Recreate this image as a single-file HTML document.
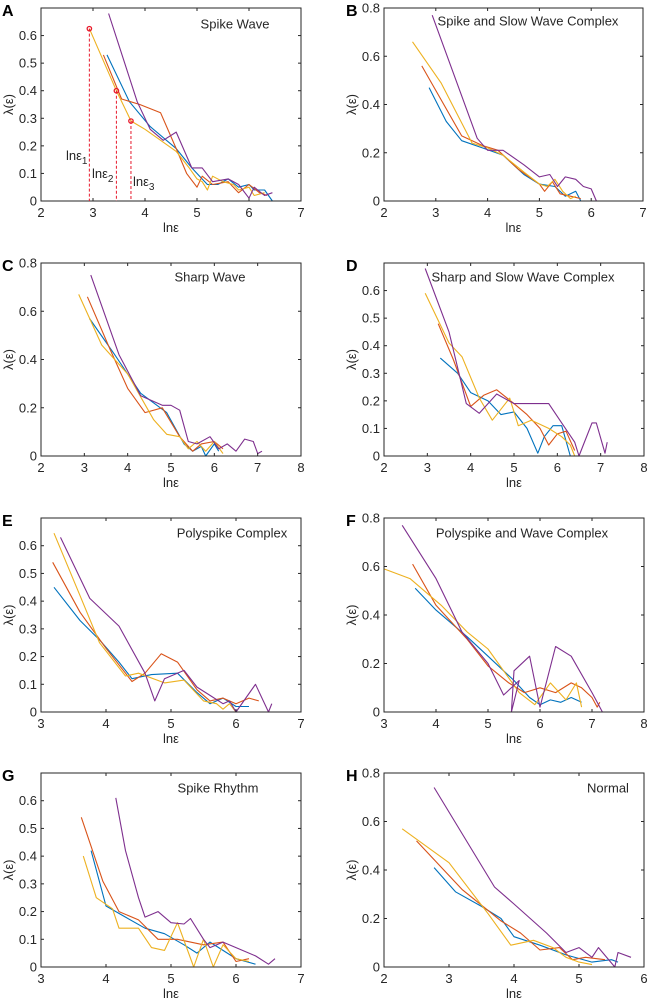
<!DOCTYPE html>
<html><head><meta charset="utf-8"><style>
body{margin:0;background:#fff;}
svg{display:block;font-family:"Liberation Sans",Arial,sans-serif;}
</style></head><body>
<svg id="fig" width="649" height="1005" viewBox="0 0 649 1005"></svg>
<script>
const colors=["#0072BD","#D95319","#EDB120","#7E2F8E"];
const seriesNames=["blue","red","yellow","purple"];
// Panel A
const aBlue=[[3.27,0.53],[3.7,0.36],[4.1,0.27],[4.6,0.19],[4.9,0.12],[5.05,0.09],[5.2,0.06],[5.4,0.06],[5.6,0.08],[5.8,0.05],[6.0,0.06],[6.1,0.04],[6.3,0.04],[6.45,0.0]];
const aRed=[[3.2,0.53],[3.55,0.37],[3.9,0.35],[4.3,0.32],[4.6,0.19],[4.8,0.10],[5.0,0.05],[5.1,0.09],[5.3,0.06],[5.6,0.07],[5.8,0.03],[6.0,0.06],[6.2,0.03],[6.35,0.02]];
const aYellow=[[2.93,0.625],[3.45,0.40],[3.73,0.29],[4.0,0.26],[4.3,0.22],[4.6,0.18],[4.85,0.12],[5.0,0.08],[5.1,0.07],[5.2,0.04],[5.3,0.09],[5.5,0.07],[5.7,0.06],[5.8,0.04],[6.0,0.05],[6.1,0.02],[6.3,0.03]];
const aPurple=[[3.3,0.68],[3.85,0.36],[4.1,0.26],[4.35,0.22],[4.6,0.25],[4.9,0.12],[5.1,0.12],[5.3,0.07],[5.6,0.08],[5.8,0.06],[6.0,0.01],[6.1,0.05],[6.3,0.02],[6.45,0.03]];
const aMarkers=[[2.93,0.625],[3.45,0.40],[3.73,0.29]];
// Panel B
const bBlue=[[2.87,0.47],[3.2,0.33],[3.5,0.25],[3.9,0.22],[4.3,0.19],[4.7,0.11],[5.0,0.07],[5.3,0.06],[5.5,0.02],[5.7,0.04],[5.8,0.0]];
const bRed=[[2.73,0.56],[3.5,0.27],[3.9,0.23],[4.2,0.21],[4.6,0.13],[5.0,0.07],[5.1,0.04],[5.25,0.08],[5.4,0.03],[5.6,0.02],[5.8,0.01]];
const bYellow=[[2.55,0.66],[3.1,0.49],[3.7,0.24],[4.0,0.22],[4.3,0.19],[4.7,0.12],[5.0,0.07],[5.15,0.06],[5.3,0.09],[5.45,0.04],[5.6,0.01],[5.7,0.02]];
const bPurple=[[2.93,0.77],[3.8,0.26],[4.0,0.21],[4.3,0.21],[4.7,0.15],[5.0,0.10],[5.2,0.11],[5.35,0.06],[5.5,0.10],[5.7,0.09],[5.85,0.06],[6.0,0.05],[6.1,0.0]];
// Panel C
const cBlue=[[3.12,0.57],[3.7,0.42],[4.3,0.26],[4.9,0.18],[5.3,0.05],[5.5,0.02],[5.7,0.04],[5.8,0.0],[6.0,0.05],[6.1,0.02]];
const cRed=[[3.07,0.66],[3.6,0.44],[4.0,0.28],[4.4,0.18],[4.8,0.20],[5.2,0.08],[5.5,0.02],[5.7,0.05],[6.0,0.06],[6.2,0.03]];
const cYellow=[[2.87,0.67],[3.4,0.46],[4.0,0.34],[4.6,0.15],[4.9,0.09],[5.2,0.08],[5.4,0.03],[5.6,0.06],[5.8,0.02],[6.0,0.06],[6.2,0.01]];
const cPurple=[[3.15,0.75],[3.8,0.42],[4.3,0.25],[4.8,0.21],[5.0,0.21],[5.2,0.19],[5.4,0.06],[5.6,0.05],[5.9,0.08],[6.1,0.03],[6.3,0.05],[6.5,0.02],[6.7,0.07],[6.9,0.06],[7.0,0.01],[7.1,0.02]];
// Panel D
const dBlue=[[3.3,0.355],[3.7,0.3],[4.0,0.23],[4.4,0.2],[4.7,0.15],[5.0,0.16],[5.3,0.1],[5.55,0.01],[5.7,0.07],[5.9,0.11],[6.1,0.11],[6.3,0.0]];
const dRed=[[3.25,0.48],[3.6,0.35],[4.0,0.18],[4.3,0.22],[4.6,0.24],[5.0,0.19],[5.3,0.15],[5.6,0.10],[5.8,0.04],[6.0,0.08],[6.2,0.09],[6.4,0.02]];
const dYellow=[[2.95,0.59],[3.5,0.41],[3.8,0.36],[4.2,0.21],[4.5,0.13],[4.9,0.21],[5.1,0.11],[5.4,0.13],[5.8,0.10],[6.1,0.07],[6.3,0.04],[6.4,0.0]];
const dPurple=[[2.95,0.68],[3.5,0.45],[3.9,0.19],[4.2,0.155],[4.6,0.225],[5.0,0.19],[5.5,0.19],[5.8,0.19],[6.1,0.12],[6.4,0.05],[6.5,0.0],[6.6,0.04],[6.8,0.12],[6.9,0.12],[7.1,0.01],[7.15,0.05]];
// Panel E
const eBlue=[[3.2,0.45],[3.6,0.33],[3.9,0.26],[4.2,0.18],[4.4,0.12],[4.7,0.135],[5.1,0.14],[5.4,0.07],[5.6,0.03],[5.8,0.05],[6.0,0.02],[6.2,0.02]];
const eRed=[[3.18,0.54],[3.6,0.36],[4.0,0.23],[4.4,0.11],[4.6,0.14],[4.85,0.21],[5.1,0.18],[5.4,0.08],[5.6,0.04],[5.8,0.05],[6.0,0.03],[6.2,0.05],[6.35,0.04]];
const eYellow=[[3.2,0.645],[3.6,0.42],[3.9,0.25],[4.3,0.13],[4.5,0.14],[4.9,0.105],[5.2,0.115],[5.5,0.04],[5.7,0.03],[5.8,0.01],[5.9,0.03],[6.0,0.0]];
const ePurple=[[3.3,0.63],[3.75,0.41],[4.2,0.31],[4.6,0.14],[4.75,0.04],[4.9,0.12],[5.2,0.15],[5.4,0.09],[5.6,0.06],[5.8,0.03],[5.9,0.04],[6.0,0.0],[6.3,0.10],[6.5,0.0],[6.55,0.03]];
// Panel F
const fBlue=[[3.6,0.51],[4.0,0.42],[4.6,0.31],[5.0,0.23],[5.5,0.13],[5.8,0.06],[6.0,0.03],[6.2,0.05],[6.4,0.04],[6.6,0.06],[6.8,0.04]];
const fRed=[[3.55,0.61],[4.0,0.44],[4.6,0.30],[5.0,0.19],[5.4,0.12],[5.7,0.08],[6.0,0.10],[6.3,0.08],[6.6,0.12],[6.8,0.10],[7.0,0.06],[7.1,0.02],[7.15,0.04]];
const fYellow=[[3.0,0.59],[3.5,0.55],[4.1,0.44],[4.6,0.33],[5.0,0.26],[5.3,0.17],[5.6,0.08],[5.9,0.03],[6.2,0.12],[6.5,0.05],[6.7,0.12],[6.8,0.02]];
const fPurple=[[3.35,0.77],[4.0,0.55],[4.5,0.33],[5.0,0.20],[5.3,0.07],[5.6,0.13],[5.45,0.0],[5.5,0.17],[5.8,0.23],[6.0,0.02],[6.3,0.27],[6.6,0.23],[7.0,0.08],[7.1,0.04],[7.2,0.0]];
// Panel G
const gBlue=[[3.77,0.42],[4.0,0.22],[4.3,0.18],[4.6,0.14],[4.9,0.12],[5.2,0.08],[5.4,0.05],[5.6,0.09],[5.8,0.06],[6.0,0.03],[6.3,0.01]];
const gRed=[[3.62,0.54],[3.95,0.31],[4.2,0.20],[4.5,0.17],[4.8,0.10],[5.1,0.10],[5.3,0.09],[5.5,0.08],[5.8,0.09],[6.0,0.02],[6.2,0.03]];
const gYellow=[[3.65,0.40],[3.85,0.25],[4.1,0.21],[4.2,0.14],[4.5,0.14],[4.7,0.07],[4.9,0.06],[5.1,0.16],[5.35,0.0],[5.5,0.10],[5.65,0.0],[5.8,0.08],[6.0,0.03],[6.2,0.02]];
const gPurple=[[4.15,0.61],[4.3,0.42],[4.5,0.25],[4.6,0.18],[4.8,0.20],[5.0,0.16],[5.2,0.155],[5.3,0.175],[5.5,0.10],[5.6,0.07],[5.8,0.09],[6.0,0.07],[6.3,0.04],[6.5,0.01],[6.6,0.03]];
// Panel H
const hBlue=[[2.77,0.41],[3.1,0.31],[3.5,0.25],[3.8,0.20],[4.0,0.125],[4.4,0.09],[4.8,0.05],[5.2,0.02],[5.5,0.03],[5.6,0.02]];
const hRed=[[2.5,0.52],[3.2,0.32],[3.8,0.19],[4.1,0.14],[4.4,0.07],[4.7,0.08],[4.9,0.03],[5.1,0.04],[5.4,0.03]];
const hYellow=[[2.28,0.57],[3.0,0.43],[3.6,0.22],[3.95,0.09],[4.3,0.11],[4.6,0.08],[4.8,0.04],[5.0,0.02],[5.2,0.01]];
const hPurple=[[2.77,0.74],[3.7,0.33],[4.0,0.26],[4.5,0.14],[4.8,0.06],[5.0,0.08],[5.2,0.04],[5.3,0.08],[5.55,0.0],[5.6,0.06],[5.8,0.04]];

const panels=[
 {id:"A",title:"Spike Wave",x0:41,x1:301,y0:8,y1:201,xmin:2,xmax:7,ymax:0.7,ystep:0.1,tx:235,ty:24,s:[aBlue,aRed,aYellow,aPurple]},
 {id:"B",title:"Spike and Slow Wave Complex",x0:384,x1:643,y0:8,y1:201,xmin:2,xmax:7,ymax:0.8,ystep:0.2,tx:528,ty:21,s:[bBlue,bRed,bYellow,bPurple]},
 {id:"C",title:"Sharp Wave",x0:41,x1:301,y0:263,y1:456,xmin:2,xmax:8,ymax:0.8,ystep:0.2,tx:210,ty:277,s:[cBlue,cRed,cYellow,cPurple]},
 {id:"D",title:"Sharp and Slow Wave Complex",x0:384,x1:644,y0:263,y1:456,xmin:2,xmax:8,ymax:0.7,ystep:0.1,tx:523,ty:277,s:[dBlue,dRed,dYellow,dPurple]},
 {id:"E",title:"Polyspike Complex",x0:41,x1:301,y0:518,y1:712,xmin:3,xmax:7,ymax:0.7,ystep:0.1,tx:232,ty:533,s:[eBlue,eRed,eYellow,ePurple]},
 {id:"F",title:"Polyspike and Wave Complex",x0:384,x1:644,y0:518,y1:712,xmin:3,xmax:8,ymax:0.8,ystep:0.2,tx:522,ty:533,s:[fBlue,fRed,fYellow,fPurple]},
 {id:"G",title:"Spike Rhythm",x0:41,x1:301,y0:773,y1:967,xmin:3,xmax:7,ymax:0.7,ystep:0.1,tx:218,ty:788,s:[gBlue,gRed,gYellow,gPurple]},
 {id:"H",title:"Normal",x0:384,x1:644,y0:773,y1:967,xmin:2,xmax:6,ymax:0.8,ystep:0.2,tx:608,ty:788,s:[hBlue,hRed,hYellow,hPurple]}
];
const NS="http://www.w3.org/2000/svg";
const svg=document.getElementById("fig");
function mk(tag,attrs,parent,txt){const e=document.createElementNS(NS,tag);for(const k in attrs)e.setAttribute(k,attrs[k]);if(txt!==undefined)e.textContent=txt;(parent||svg).appendChild(e);return e;}
panels.forEach(p=>{
 const g=mk("g",{});
 
 
 const X=v=>p.x0+(v-p.xmin)/(p.xmax-p.xmin)*(p.x1-p.x0);
 const Y=v=>p.y1-v/p.ymax*(p.y1-p.y0);
 // series
 p.s.forEach((pts,i)=>{
  const pl=mk("polyline",{points:pts.map(q=>X(q[0]).toFixed(1)+","+Y(q[1]).toFixed(1)).join(" "),fill:"none",stroke:colors[i],"stroke-width":1.1,"stroke-linejoin":"round"},g);
  
  
 });
 // axes box
 const box=mk("rect",{x:p.x0,y:p.y0,width:p.x1-p.x0,height:p.y1-p.y0,fill:"none",stroke:"#262626","stroke-width":1},g);
 
 
 // x ticks
 for(let v=p.xmin;v<=p.xmax+1e-9;v+=1){
  const x=X(v);
  mk("line",{x1:x,y1:p.y1,x2:x,y2:p.y1-3,stroke:"#262626"},g);
  mk("line",{x1:x,y1:p.y0,x2:x,y2:p.y0+3,stroke:"#262626"},g);
  const t=mk("text",{x:x,y:p.y1+16,"text-anchor":"middle","font-size":13,fill:"#262626"},g,String(v));
  
  
 }
 // y ticks
 const n=Math.round(p.ymax/p.ystep);
 const maxLabel=(p.ystep===0.1)?n-1:n;
 for(let k=0;k<=n;k++){
  const v=k*p.ystep, y=Y(v);
  mk("line",{x1:p.x0,y1:y,x2:p.x0+3,y2:y,stroke:"#262626"},g);
  mk("line",{x1:p.x1,y1:y,x2:p.x1-3,y2:y,stroke:"#262626"},g);
  if(k<=maxLabel){
   const t=mk("text",{x:p.x0-4,y:y+4.5,"text-anchor":"end","font-size":13,fill:"#262626"},g,k===0?"0":v.toFixed(1));
   
   
  }
 }
 const xl=mk("text",{x:(p.x0+p.x1)/2,y:p.y1+31,"text-anchor":"middle","font-size":13,fill:"#262626"},g,"lnε");
 
 
 const yx=p.x0-28;
 const yl=mk("text",{x:yx,y:(p.y0+p.y1)/2,"text-anchor":"middle","font-size":13,fill:"#262626",transform:`rotate(-90 ${yx} ${(p.y0+p.y1)/2})`},g,"λ(ε)");
 
 
 const ti=mk("text",{x:p.tx,y:p.ty+4.5,"text-anchor":"middle","font-size":13,fill:"#262626"},g,p.title);
 
 
 const lx=p.x0<100?2:p.x0-38;
 const lb=mk("text",{x:lx,y:p.y0+8,"font-size":16,"font-weight":"bold",fill:"#000"},g,p.id);
 
 
 if(p.id==="A"){
  aMarkers.forEach((q,i)=>{
   const ln=mk("line",{x1:X(q[0]),y1:Y(q[1]),x2:X(q[0]),y2:p.y1,stroke:"#e8192c","stroke-width":1,"stroke-dasharray":"3,2"},g);
   
   
   const c=mk("circle",{cx:X(q[0]),cy:Y(q[1]),r:2.2,fill:"none",stroke:"#e8192c","stroke-width":1.3},g);
   
   
  });
  [[66,160,"1"],[92,178,"2"],[133,186,"3"]].forEach(l=>{
   const t=mk("text",{x:l[0],y:l[1],"font-size":13,fill:"#262626"},g,"lnε");
   mk("tspan",{"font-size":10,dy:4},t,l[2]);
   
   
  });
 }
});
</script>
</body></html>
